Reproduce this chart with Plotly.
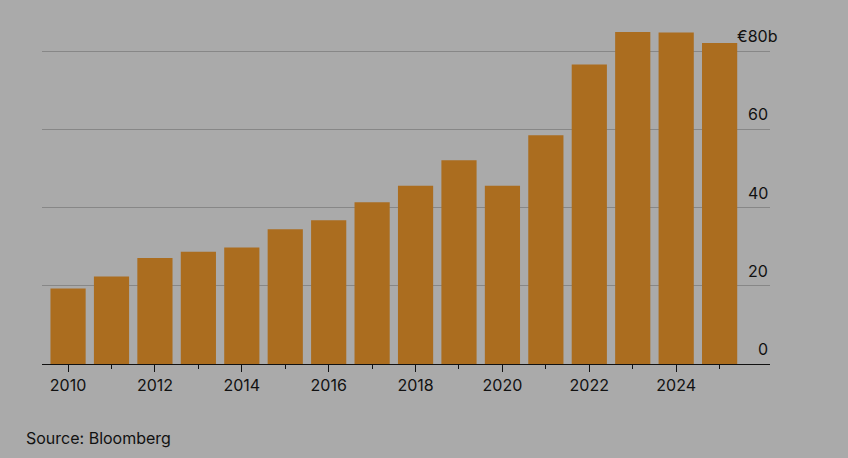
import plotly.graph_objects as go

years = list(range(2010, 2026))
values = [19.3, 22.4, 27.1, 28.7, 29.8, 34.5, 36.8, 41.4, 45.6, 52.1, 45.6, 58.5, 76.6, 84.9, 84.8, 82.1]
x_tick_years = [2010, 2012, 2014, 2016, 2018, 2020, 2022, 2024]
minor_tick_years = [2011, 2013, 2015, 2017, 2019, 2021, 2023, 2025]
y_ticks = [0, 20, 40, 60, 80]
y_tick_text = ["0", "20", "40", "60", "€80b"]

BG = "#aaaaaa"
BAR = "#ab6d1f"
FONT = "Inter, Liberation Sans, Arial, sans-serif"
INK = "#111111"
XRANGE = [2009.40, 2026.16]

fig = go.Figure()
fig.add_trace(go.Bar(x=years, y=values, marker=dict(color=BAR, line=dict(width=0)), width=0.81,
                     hoverinfo="skip"))
# invisible trace so the overlay axis carrying the short odd-year ticks is drawn
fig.add_trace(go.Scatter(x=minor_tick_years, y=[0] * len(minor_tick_years), xaxis="x2", yaxis="y",
                         mode="markers", marker=dict(opacity=0), hoverinfo="skip", showlegend=False))

fig.update_layout(
    width=848, height=458,
    paper_bgcolor=BG, plot_bgcolor=BG,
    margin=dict(l=42, r=78, t=20, b=94),
    showlegend=False,
    font=dict(family=FONT, size=16, color=INK),
    xaxis2=dict(
        overlaying="x", anchor="y", side="bottom", range=XRANGE,
        tickmode="array", tickvals=minor_tick_years, showticklabels=False,
        ticks="outside", ticklen=4, tickwidth=1, tickcolor=INK,
        showgrid=False, zeroline=False, showline=False,
    ),
)
fig.layout.xaxis.update(
    range=XRANGE,
    tickmode="array", tickvals=x_tick_years, ticktext=[str(y) for y in x_tick_years],
    ticks="outside", ticklen=7, tickwidth=1, tickcolor=INK,
    showgrid=False, showline=False, zeroline=False,
    tickfont=dict(family=FONT, size=16, color=INK),
)
fig.update_yaxes(
    range=[0, 88],
    tickvals=y_ticks, showticklabels=False,
    showgrid=True, gridcolor="#878787", gridwidth=1,
    zeroline=True, zerolinecolor=INK, zerolinewidth=1.3,
)

for v, t in zip(y_ticks, y_tick_text):
    fig.add_annotation(
        x=1, xref="paper", y=v, yref="y", text=t, showarrow=False,
        xanchor="right", yanchor="bottom", yshift=3,
        xshift=9 if t.endswith("b") else 0,
        font=dict(family=FONT, size=16, color=INK),
    )

fig.add_annotation(
    x=(24 - 42) / 728, xref="paper", y=-(438 - 364) / 344, yref="paper",
    text="Source: Bloomberg", showarrow=False,
    xanchor="left", yanchor="middle",
    font=dict(family=FONT, size=16, color=INK),
)

fig.write_html("out.html", config={"displayModeBar": False},
               post_script="document.body.style.margin='0';document.body.style.background='#aaaaaa';")
